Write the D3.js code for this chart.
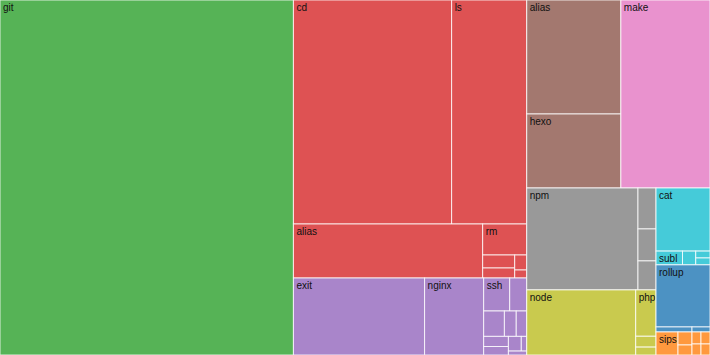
<!DOCTYPE html>
<html>
<head>
<meta charset="utf-8">
<script src="https://cdn.jsdelivr.net/npm/d3@7"></script>
<style>
  html, body { margin: 0; padding: 0; background: #fff; }
  svg { display: block; }
  text { font-family: "Liberation Sans", Arial, Helvetica, sans-serif; font-size: 10px; fill: #111; }
</style>
</head>
<body>
<svg id="chart" width="710" height="355"></svg>
<script>
// Groups (top-level categories) and their leaf commands / usage counts
const groupKeys = ["git", "cd", "exit", "alias", "make", "npm", "node", "cat", "rollup", "sips"];
// order in which the ordinal colour scale received its domain
const colorDomain = ["rollup", "sips", "git", "cd", "exit", "alias", "make", "npm", "node", "cat"];

const gitNames = ["git"];
const gitValues = [104015];
const cdNames = ["cd", "ls", "alias", "rm", "", "", "", ""];
const cdValues = [35392, 16800, 10206, 1364, 416, 320, 180, 96];
const exitNames = ["exit", "nginx", "ssh", "", "", "", "", "", "", "", "", ""];
const exitValues = [10087, 4543, 858, 561, 525, 300, 266, 250, 210, 189, 80, 72];
const aliasNames = ["alias", "hexo"];
const aliasValues = [10716, 6956];
const makeNames = ["make"];
const makeValues = [16732];
const npmNames = ["npm", "", "", ""];
const npmValues = [11322, 738, 576, 522];
const nodeNames = ["node", "php", "", ""];
const nodeValues = [7085, 940, 220, 160];
const catNames = ["cat", "subl", "", "", ""];
const catValues = [3402, 364, 182, 98, 98];
const rollupNames = ["rollup", "", ""];
const rollupValues = [3348, 180, 90];
const sipsNames = ["sips", "", "", "", "", "", ""];
const sipsValues = [506, 182, 140, 108, 108, 99, 99];

const leafNames = [gitNames, cdNames, exitNames, aliasNames, makeNames, npmNames, nodeNames, catNames, rollupNames, sipsNames];
const leafValues = [gitValues, cdValues, exitValues, aliasValues, makeValues, npmValues, nodeValues, catValues, rollupValues, sipsValues];

const W = 710, H = 355;

const data = {
  name: "root",
  children: groupKeys.map((g, i) => ({
    name: g,
    children: leafNames[i].map((n, j) => ({ name: n, value: leafValues[i][j] }))
  }))
};

const root = d3.hierarchy(data)
  .sum(d => d.value || 0)
  .sort((a, b) => b.value - a.value);

d3.treemap()
  .size([W, H])
  .tile(d3.treemapSquarify)
  .paddingInner(0)
  (root);

const color = d3.scaleOrdinal(d3.schemeCategory10).domain(colorDomain);

const svg = d3.select("#chart");

const leaf = svg.selectAll("g.leaf")
  .data(root.leaves())
  .join("g")
  .attr("class", "leaf")
  .attr("transform", d => `translate(${d.x0},${d.y0})`);

leaf.append("rect")
  .attr("width", d => d.x1 - d.x0)
  .attr("height", d => d.y1 - d.y0)
  .attr("fill", d => color(d.parent.data.name))
  .attr("fill-opacity", 0.8)
  .attr("stroke", "#fff")
  .attr("stroke-opacity", 0.8)
  .attr("stroke-width", 1);

leaf.filter(d => d.data.name)
  .append("text")
  .attr("x", 3)
  .attr("y", 11)
  .text(d => d.data.name);
</script>
</body>
</html>
